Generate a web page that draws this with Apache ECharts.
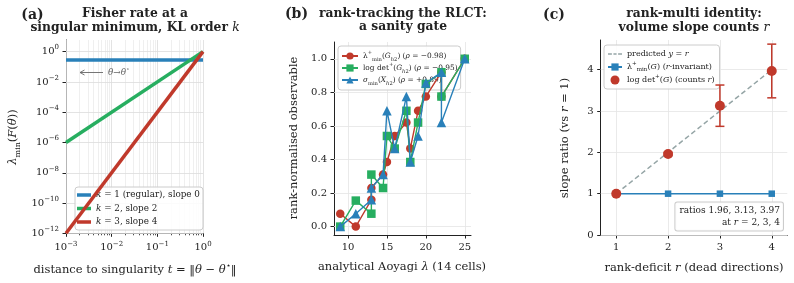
<!DOCTYPE html>
<html><head><meta charset="utf-8">
<script src="https://cdn.jsdelivr.net/npm/echarts@6/dist/echarts.min.js"></script>
<style>html,body{margin:0;padding:0;background:#fff}#c{width:794px;height:283px}</style>
</head><body><div id="c"></div>
<script>
// ---------- Panel (a): Fisher rate (log-log) ----------
const aT = [1e-3, 1e0];                 // distance to singularity
const aK1 = [0.28, 0.28];               // k=1, slope 0
const aK2 = [1e-6, 1];                  // k=2, slope 2
const aK3 = [1e-12, 1];                 // k=3, slope 4
const aXTickExp = [-3, -2, -1, 0];
const aYTickExp = [-12, -10, -8, -6, -4, -2, 0];
// ---------- Panel (b): rank tracking ----------
const bAoyagi = [9, 11, 13, 13, 14.5, 15, 16, 17.5, 18, 19, 20, 22, 22, 25];
const bLambda = [0.077, 0.0, 0.16, 0.23, 0.31, 0.385, 0.54, 0.62, 0.465, 0.69, 0.775, 0.92, 0.775, 1.0];
const bLogdet = [0.0, 0.155, 0.077, 0.31, 0.23, 0.54, 0.465, 0.69, 0.385, 0.62, 0.85, 0.92, 0.775, 1.0];
const bSigma  = [0.0, 0.077, 0.16, 0.23, 0.31, 0.69, 0.465, 0.775, 0.385, 0.54, 0.855, 0.92, 0.62, 1.0];
const bXTicks = [10, 15, 20, 25];
const bYTicks = [0, 0.2, 0.4, 0.6, 0.8, 1.0];
// ---------- Panel (c): rank-multi identity ----------
const cR = [1, 2, 3, 4];
const cPredicted = [1, 2, 3, 4];
const cLamMin = [1, 1, 1, 1];
const cLogdet = [1, 1.96, 3.13, 3.97];
const cLogdetErr = [0, 0.04, 0.5, 0.65];
const cXTicks = [1, 2, 3, 4];
const cYTicks = [0, 1, 2, 3, 4];

const F = 'DejaVu Serif';
const TXT = '#222';
const RED = '#c0392b', GREEN = '#27ae60', BLUE = '#2980b9', GRAY = '#95a5a6';
const GRID_C = '#e4e4e4', GRID_A = '#dcdcdc', MINOR_C = '#ebebeb';

function R(fs, color, lhf) {
  color = color || TXT;
  const lh = Math.round(fs * (lhf || 1.5));
  const sfs = Math.round(fs * 0.7 * 10) / 10;
  const slh = Math.round(sfs + 1);
  return {
    r:   {fontFamily: F, fontSize: fs, color, lineHeight: lh, verticalAlign: 'middle'},
    i:   {fontFamily: F, fontSize: fs, color, lineHeight: lh, verticalAlign: 'middle', fontStyle: 'italic'},
    b:   {fontFamily: F, fontSize: fs, color, lineHeight: lh, verticalAlign: 'middle', fontWeight: 'bold'},
    sup: {fontFamily: F, fontSize: sfs, color, lineHeight: slh, verticalAlign: 'top'},
    supi:{fontFamily: F, fontSize: sfs, color, lineHeight: slh, verticalAlign: 'top', fontStyle: 'italic'},
    sub: {fontFamily: F, fontSize: sfs, color, lineHeight: slh, verticalAlign: 'bottom'},
    subi:{fontFamily: F, fontSize: sfs, color, lineHeight: slh, verticalAlign: 'bottom', fontStyle: 'italic'}
  };
}

function gtext(x, y, text, fs, o) {
  o = o || {};
  return {type: 'text', x, y, rotation: o.rot || 0, z: 100, silent: true,
    style: Object.assign({text, rich: o.rich || R(fs, o.color, o.lhf), fontFamily: F, fontSize: fs, fill: o.color || TXT,
      align: o.align || 'center', verticalAlign: o.va || 'middle'}, o.style || {})};
}

const log10 = Math.log10;
const minorTickVals = [];
for (let e = -3; e < 0; e++) for (let k = 2; k <= 9; k++) minorTickVals.push(log10(k * Math.pow(10, e)));

const TICK_FS = 10;
function axisBase(extra) {
  return Object.assign({
    type: 'value',
    axisLine: {show: true, onZero: false, lineStyle: {color: '#222', width: 1}},
    axisTick: {show: true, length: 3.5, lineStyle: {color: '#222', width: 1}},
    axisLabel: {fontFamily: F, fontSize: TICK_FS, color: TXT},
    splitLine: {show: false}
  }, extra);
}
function supLabel(v) {
  const e = Math.round(v);
  return '{r|10}{sup|' + (e < 0 ? '\u2212' + (-e) : e) + '}';
}
function lbl(custom, extra) {
  return Object.assign({fontFamily: F, fontSize: TICK_FS, color: TXT, margin: 7, customValues: custom}, extra || {});
}
function tck(custom) {
  return {show: true, length: 3.5, lineStyle: {color: '#222'}, customValues: custom};
}

function gridLines(xi, yi, xs, ys, color, width) {
  return {type: 'line', xAxisIndex: xi, yAxisIndex: yi, data: [], silent: true, z: 1,
    markLine: {silent: true, symbol: 'none', animation: false, z: 1, label: {show: false},
      lineStyle: {color, width: width || 0.8, type: 'solid', opacity: 1},
      emphasis: {disabled: true},
      data: xs.map(v => ({xAxis: v})).concat(ys.map(v => ({yAxis: v})))}};
}

const legendBase = {
  orient: 'vertical', selectedMode: false, itemGap: 1, padding: [2, 6, 2, 3],
  backgroundColor: 'rgba(255,255,255,0.85)', borderColor: '#cccccc', borderWidth: 1, borderRadius: 3
};

const names = {
  k1: '{i|k}{r| = 1 (regular), slope 0}',
  k2: '{i|k}{r| = 2, slope 2}',
  k3: '{i|k}{r| = 3, slope 4}',
  bl: '{r|\u03bb}{sup|+}{sub|min}{r|(}{i|G}{subi|h}{sub|2}{r|) (}{i|\u03c1}{r| = \u22120.98)}',
  bg: '{r|log det}{sup|+}{r|(}{i|G}{subi|h}{sub|2}{r|) (}{i|\u03c1}{r| = \u22120.95)}',
  bs: '{i|\u03c3}{sub|min}{r|(}{i|X}{subi|h}{sub|2}{r|) (}{i|\u03c1}{r| = +0.89)}',
  cp: '{r|predicted }{i|y}{r| = }{i|r}',
  cl: '{r|\u03bb}{sup|+}{sub|min}{r|(}{i|G}{r|) (}{i|r}{r|-invariant)}',
  cd: '{r|log det}{sup|+}{r|(}{i|G}{r|) (counts }{i|r}{r|)}'
};

const dashIcon = 'path://M0,0h5v2h-5z M7,0h4v2h-4z M13,0h5v2h-5z';

const option = {
  animation: false,
  backgroundColor: '#fff',
  grid: [
    {left: 66, top: 40, width: 137, height: 193.3, outerBoundsMode: 'none'},
    {left: 334, top: 42, width: 137, height: 193, outerBoundsMode: 'none'},
    {left: 600.7, top: 40, width: 186.6, height: 195, outerBoundsMode: 'none'}
  ],
  xAxis: [
    axisBase({gridIndex: 0, min: -3, max: 0, interval: 1,
      axisLabel: lbl(aXTickExp, {rich: R(TICK_FS), formatter: supLabel}), axisTick: tck(aXTickExp)}),
    axisBase({gridIndex: 0, min: -3, max: 0, position: 'bottom', offset: 0, axisLine: {show: false, onZero: false},
      axisLabel: {show: false}, axisTick: {show: true, length: 2, lineStyle: {color: '#222', width: 0.8}, customValues: minorTickVals}}),
    axisBase({gridIndex: 1, min: 8.2, max: 25.8, axisLabel: lbl(bXTicks), axisTick: tck(bXTicks)}),
    axisBase({gridIndex: 2, min: 0.7, max: 4.3, axisLabel: lbl(cXTicks), axisTick: tck(cXTicks)})
  ],
  yAxis: [
    axisBase({gridIndex: 0, min: -12, max: 0.77,
      axisLabel: lbl(aYTickExp, {rich: R(TICK_FS), formatter: supLabel}), axisTick: tck(aYTickExp)}),
    axisBase({gridIndex: 1, min: -0.05, max: 1.1,
      axisLabel: lbl(bYTicks, {formatter: v => v.toFixed(1)}), axisTick: tck(bYTicks)}),
    axisBase({gridIndex: 2, min: 0, max: 4.72, axisLabel: lbl(cYTicks), axisTick: tck(cYTicks)})
  ],
  legend: [
    Object.assign({}, legendBase, {left: 75, top: 187,
      data: [{name: 'k1', icon: 'rect'}, {name: 'k2', icon: 'rect'}, {name: 'k3', icon: 'rect'}],
      itemWidth: 14, itemHeight: 3.5, itemGap: 1.5, padding: [2, 3, 2, 2],
      textStyle: {fontFamily: F, fontSize: 8.8, color: TXT, lineHeight: 12.5, rich: R(8.8, TXT, 1.42)}, formatter: n => names[n]}),
    Object.assign({}, legendBase, {left: 338, top: 46, data: ['bl', 'bg', 'bs'], itemWidth: 16, itemHeight: 9, itemGap: 0,
      padding: [4, 3, 4, 3],
      textStyle: {fontFamily: F, fontSize: 7.4, color: TXT, lineHeight: 11.7, width: 93, rich: R(7.4, TXT, 1.58)}, formatter: n => names[n]}),
    Object.assign({}, legendBase, {left: 604, top: 45,
      data: [{name: 'cp', icon: dashIcon, itemStyle: {color: GRAY}}, 'cl', 'cd'], itemWidth: 14, itemHeight: 9, itemGap: 1,
      padding: [3, 5, 3, 3],
      textStyle: {fontFamily: F, fontSize: 8, color: TXT, lineHeight: 12, rich: R(8, TXT, 1.5)}, formatter: n => names[n]})
  ],
  series: [
    gridLines(0, 0, minorTickVals, [], MINOR_C, 0.8),
    gridLines(0, 0, aXTickExp, aYTickExp, GRID_A, 0.8),
    gridLines(2, 1, bXTicks, bYTicks, GRID_C, 0.8),
    gridLines(3, 2, cXTicks, cYTicks, GRID_C, 0.8),
    // panel a
    {name: 'k1', type: 'line', xAxisIndex: 0, yAxisIndex: 0, symbol: 'none', z: 10,
      lineStyle: {color: BLUE, width: 3.5}, itemStyle: {color: BLUE},
      data: aT.map((t, i) => [log10(t), log10(aK1[i])])},
    {name: 'k2', type: 'line', xAxisIndex: 0, yAxisIndex: 0, symbol: 'none', z: 11,
      lineStyle: {color: GREEN, width: 3.5}, itemStyle: {color: GREEN},
      data: aT.map((t, i) => [log10(t), log10(aK2[i])])},
    {name: 'k3', type: 'line', xAxisIndex: 0, yAxisIndex: 0, symbol: 'none', z: 12,
      lineStyle: {color: RED, width: 3.5}, itemStyle: {color: RED},
      data: aT.map((t, i) => [log10(t), log10(aK3[i])])},
    // panel b
    {name: 'bl', type: 'line', xAxisIndex: 2, yAxisIndex: 1, symbol: 'circle', symbolSize: 8.5, z: 10,
      lineStyle: {color: RED, width: 1.4}, itemStyle: {color: RED},
      data: bAoyagi.map((x, i) => [x, bLambda[i]])},
    {name: 'bg', type: 'line', xAxisIndex: 2, yAxisIndex: 1, symbol: 'rect', symbolSize: 8.5, z: 11,
      lineStyle: {color: GREEN, width: 1.4}, itemStyle: {color: GREEN},
      data: bAoyagi.map((x, i) => [x, bLogdet[i]])},
    {name: 'bs', type: 'line', xAxisIndex: 2, yAxisIndex: 1, symbol: 'triangle', symbolSize: 9.5, z: 12,
      lineStyle: {color: BLUE, width: 1.4}, itemStyle: {color: BLUE},
      data: bAoyagi.map((x, i) => [x, bSigma[i]])},
    // panel c
    {name: 'cp', type: 'line', xAxisIndex: 3, yAxisIndex: 2, symbol: 'none', z: 10,
      lineStyle: {color: GRAY, width: 1.5, type: [5, 3]}, itemStyle: {color: GRAY},
      data: cR.map((r, i) => [r, cPredicted[i]])},
    {name: 'cl', type: 'line', xAxisIndex: 3, yAxisIndex: 2, symbol: 'rect', symbolSize: 6.5, z: 11,
      lineStyle: {color: BLUE, width: 1.5}, itemStyle: {color: BLUE},
      data: cR.map((r, i) => [r, cLamMin[i]])},
    {type: 'custom', xAxisIndex: 3, yAxisIndex: 2, z: 12, silent: true,
      data: cR.map((r, i) => [r, cLogdet[i] - cLogdetErr[i], cLogdet[i] + cLogdetErr[i]]),
      renderItem: (params, api) => {
        const x = api.value(0), lo = api.value(1), hi = api.value(2);
        if (hi - lo <= 0) return {type: 'group', children: []};
        const p1 = api.coord([x, lo]), p2 = api.coord([x, hi]);
        const w = 4.5, st = {stroke: RED, lineWidth: 1.5};
        return {type: 'group', children: [
          {type: 'line', shape: {x1: p1[0], y1: p1[1], x2: p2[0], y2: p2[1]}, style: st},
          {type: 'line', shape: {x1: p1[0] - w, y1: p1[1], x2: p1[0] + w, y2: p1[1]}, style: st},
          {type: 'line', shape: {x1: p2[0] - w, y1: p2[1], x2: p2[0] + w, y2: p2[1]}, style: st}
        ]};
      }},
    {name: 'cd', type: 'scatter', xAxisIndex: 3, yAxisIndex: 2, symbol: 'circle', symbolSize: 10, z: 13,
      itemStyle: {color: RED, opacity: 1},
      data: cR.map((r, i) => [r, cLogdet[i]])}
  ],
  graphic: (function () {
    const TFS = 12.3;
    const titleRich = Object.assign(R(TFS), {
      b: {fontFamily: F, fontSize: TFS, fontWeight: 'bold', color: TXT, lineHeight: 13.5},
      i: {fontFamily: F, fontSize: TFS, fontStyle: 'italic', color: TXT, lineHeight: 13.5}});
    const AFS = 11.5;
    return [
      gtext(32.5, 15, '{b|(a)}', 14),
      gtext(296.5, 14, '{b|(b)}', 14),
      gtext(554, 15, '{b|(c)}', 14),
      gtext(135, 21, '{b|Fisher rate at a}\n{b|singular minimum, KL order }{i|k}', TFS, {rich: titleRich}),
      gtext(403, 20.5, '{b|rank-tracking the RLCT:}\n{b|a sanity gate}', TFS, {rich: titleRich}),
      gtext(694, 21, '{b|rank-multi identity:}\n{b|volume slope counts }{i|r}', TFS, {rich: titleRich}),
      gtext(135, 270, '{r|distance to singularity }{i|t}{r| = \u2016}{i|\u03b8}{r| \u2212 }{i|\u03b8}{sup|\u22c6}{r|\u2016}', AFS),
      gtext(13, 137, '{i|\u03bb}{sub|min}{r|(}{i|F}{r|(}{i|\u03b8}{r|))}', AFS, {rot: Math.PI / 2}),
      gtext(402, 267, '{r|analytical Aoyagi }{i|\u03bb}{r| (14 cells)}', AFS),
      gtext(294, 138, '{r|rank-normalised observable}', AFS, {rot: Math.PI / 2}),
      gtext(694, 268, '{r|rank-deficit }{i|r}{r| (dead directions)}', AFS),
      gtext(565, 138, '{r|slope ratio (vs }{i|r}{r| = 1)}', AFS, {rot: Math.PI / 2}),
      {type: 'line', z: 100, silent: true, shape: {x1: 103, y1: 72.5, x2: 80, y2: 72.5}, style: {stroke: '#666', lineWidth: 0.9}},
      {type: 'polyline', z: 100, silent: true, shape: {points: [[84.5, 70], [80, 72.5], [84.5, 75]]}, style: {stroke: '#666', lineWidth: 0.9, fill: null}},
      gtext(108, 72.5, '{i|\u03b8}{r|\u2192}{i|\u03b8}{sup|\u22c6}', 8.8, {align: 'left', color: '#666'}),
      gtext(783, 216.5, '{r|ratios 1.96, 3.13, 3.97}\n{r|at }{i|r}{r| = 2, 3, 4}', 9, {align: 'right', lhf: 1.35,
        style: {backgroundColor: 'rgba(255,255,255,0.9)', borderColor: '#cccccc', borderWidth: 1, borderRadius: 2, padding: [2, 3, 2, 4]}})
    ];
  })()
};

const chart = echarts.init(document.getElementById('c'), null, {renderer: 'canvas'});
chart.setOption(option);
</script></body></html>
